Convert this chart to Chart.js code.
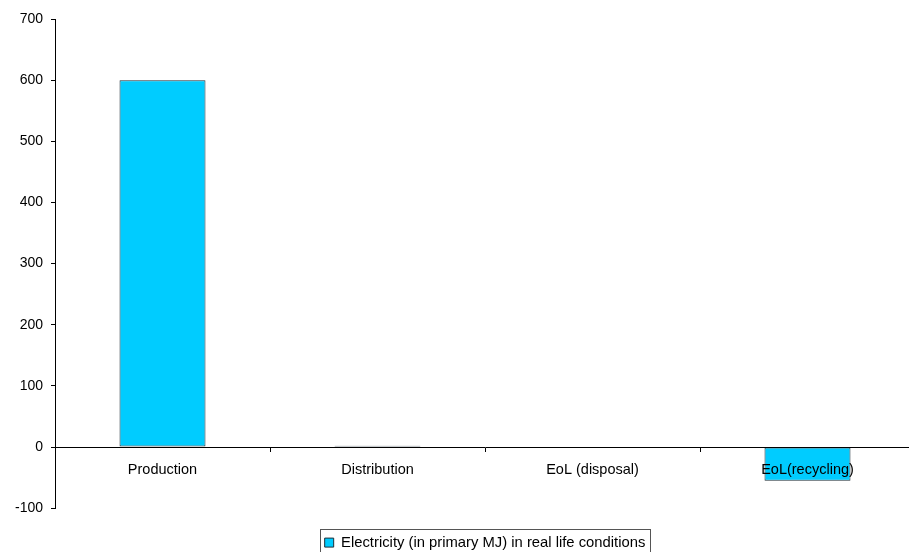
<!DOCTYPE html>
<html>
<head>
<meta charset="utf-8">
<script src="https://cdn.jsdelivr.net/npm/chart.js@4"></script>
<style>
  html, body { margin: 0; padding: 0; background: #fff; overflow: hidden; }
  #wrap { width: 909px; height: 552px; overflow: hidden; }
</style>
</head>
<body>
<div id="wrap"><canvas id="lifeChart" width="915" height="552"></canvas></div>
<script>
const categories = ["Production", "Distribution", "EoL (disposal)", "EoL(recycling)"];
const electricityValues = [600, 2, 0, -55];
const seriesLabel = "Electricity (in primary MJ) in real life conditions";
const yMin = -100;
const yMax = 700;
const yStep = 100;

// frame round the legend item, like the original spreadsheet legend
const legendFramePlugin = {
  id: "legendFrame",
  afterDraw(chart) {
    const box = chart.legend && chart.legend.legendHitBoxes && chart.legend.legendHitBoxes[0];
    if (!box) return;
    const ctx = chart.ctx;
    ctx.save();
    ctx.strokeStyle = "#555";
    ctx.lineWidth = 1;
    ctx.strokeRect(Math.round(box.left - 5) + 0.5, 529.5, Math.round(box.width + 9), 30);
    ctx.restore();
  }
};

const ctx = document.getElementById("lifeChart").getContext("2d");
const lifeChart = new Chart(ctx, {
  type: "bar",
  plugins: [legendFramePlugin],
  data: {
    labels: categories,
    datasets: [
      {
        label: seriesLabel,
        data: electricityValues,
        backgroundColor: "#00ccff",
        borderColor: "#1f2f38",
        borderWidth: 1,
        borderSkipped: false,
        categoryPercentage: 0.4,
        barPercentage: 1
      }
    ]
  },
  options: {
    responsive: false,
    animation: false,
    events: [],
    layout: {
      padding: { top: 19, right: 0, bottom: -8, left: 0 }
    },
    plugins: {
      legend: {
        position: "bottom",
        fullSize: false,
        labels: {
          color: "#000",
          boxWidth: 9,
          boxHeight: 9,
          padding: 27,
          font: { family: "Liberation Sans", size: 14.8 }
        }
      },
      tooltip: { enabled: false }
    },
    scales: {
      x: {
        position: { y: 0 },
        offset: true,
        grid: {
          offset: true,
          drawOnChartArea: false,
          drawTicks: true,
          tickLength: 4,
          color: "#000"
        },
        border: { color: "#000", width: 1, z: 1 },
        ticks: {
          z: 1,
          color: "#000",
          padding: 10,
          maxRotation: 0,
          font: { family: "Liberation Sans", size: 14.5 }
        }
      },
      y: {
        min: yMin,
        max: yMax,
        afterFit(scale) {
          scale.width = 55;
        },
        grid: {
          drawOnChartArea: false,
          drawTicks: true,
          tickLength: 4,
          color: "#000"
        },
        border: { color: "#000", width: 1 },
        ticks: {
          stepSize: yStep,
          color: "#000",
          padding: 8,
          font: { family: "Liberation Sans", size: 14 }
        }
      }
    }
  }
});
</script>
</body>
</html>
